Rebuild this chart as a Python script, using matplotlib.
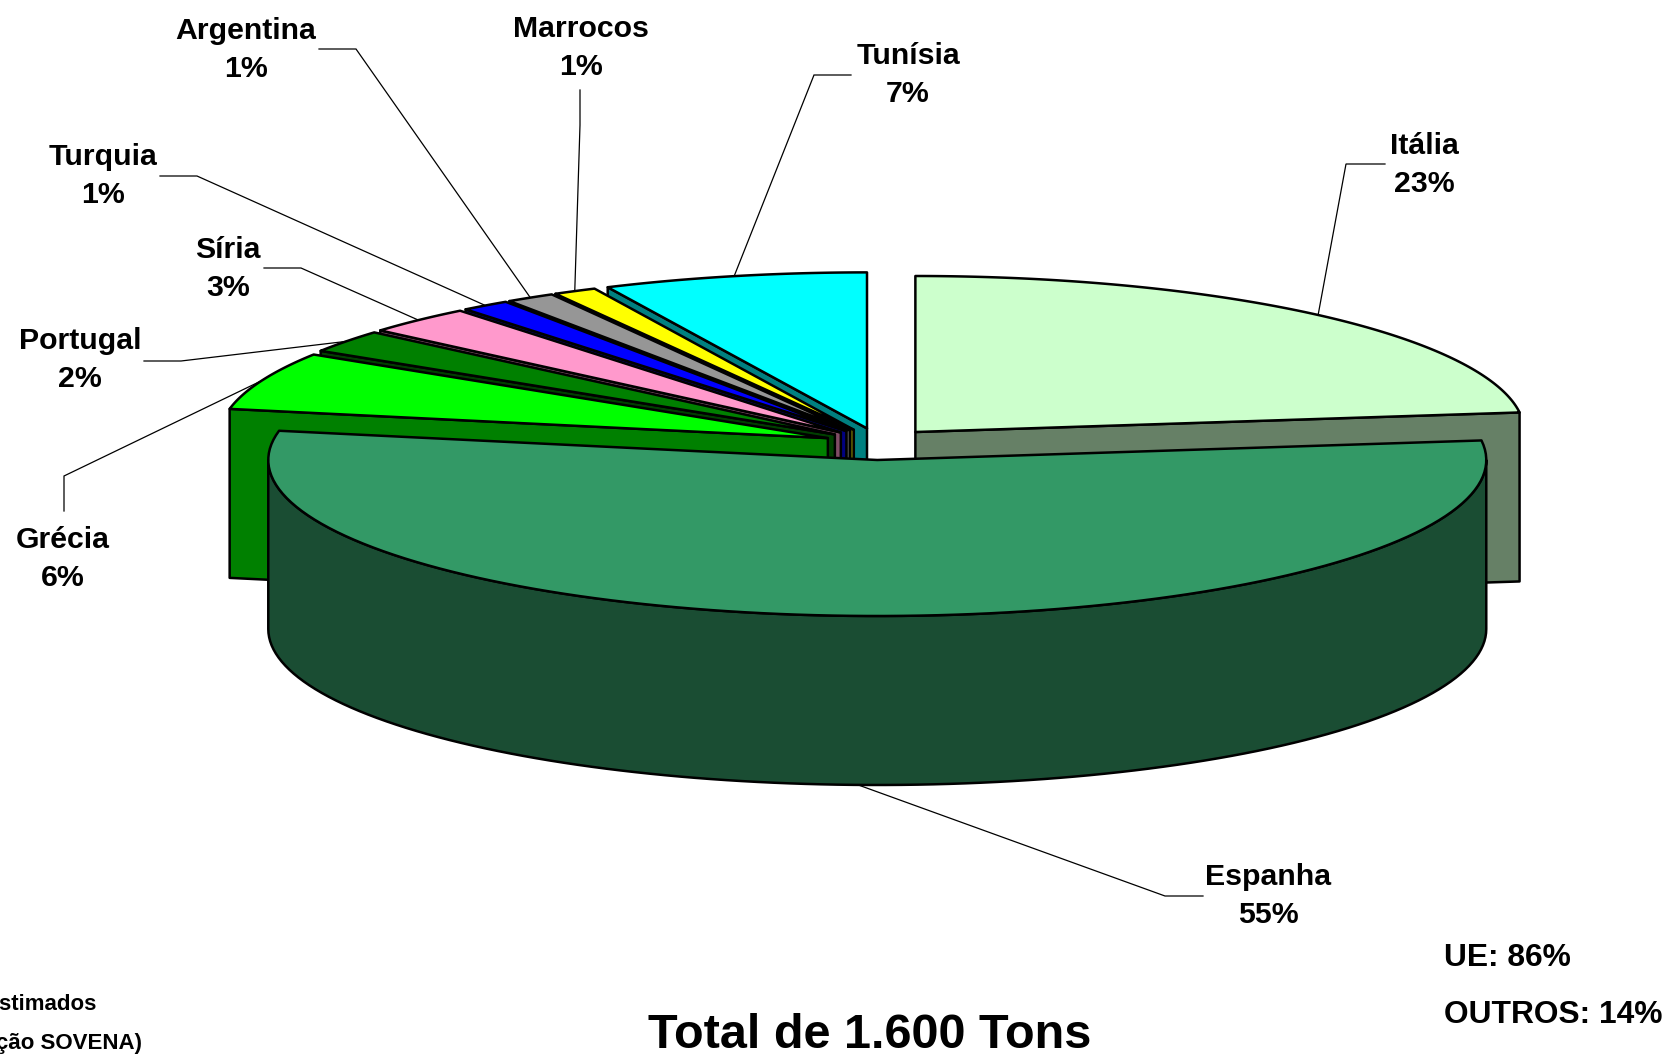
"""
Pizza 3D explodida: origem do azeite (percentagens por país)
"""
import matplotlib.pyplot as plt
from matplotlib.colors import to_rgb
from matplotlib.patches import Polygon
import numpy as np

plt.rcParams['font.family'] = ['Liberation Sans', 'DejaVu Sans']

# dados, pela ordem em que as fatias são percorridas a partir das 12 horas (sentido anti-horário)
paises = ['Tunísia', 'Marrocos', 'Argentina', 'Turquia', 'Síria', 'Portugal', 'Grécia', 'Espanha', 'Itália']
valores = [7, 1.15, 1.3, 1.3, 2.9, 2.35, 6, 55, 23]
cores = ['#00FFFF', '#FFFF00', '#969696', '#0000FF', '#FF99CC', '#008000', '#00FF00', '#339966', '#CCFFCC']

# geometria da pizza (pixels da figura)
cx, cy = 879, 444
rx, ry = 609, 156
prof = 169
expl_x, expl_y = 55, 16
W, H = 1669, 1057

# posição dos textos e cotovelos das linhas de chamada
pos_texto = {'Tunísia': (908, 75), 'Marrocos': (581, 48), 'Argentina': (246, 50), 'Turquia': (103, 176),
             'Síria': (228, 269), 'Portugal': (80, 360), 'Grécia': (63, 559), 'Espanha': (1268, 896),
             'Itália': (1424, 165)}
chamadas = {'Tunísia': [(814, 75), (851, 75)], 'Marrocos': [(580, 125), (580, 90)],
            'Argentina': [(356, 49), (319, 49)], 'Turquia': [(197, 176), (160, 176)],
            'Síria': [(301, 268), (264, 268)], 'Portugal': [(181, 361), (144, 361)],
            'Grécia': [(64, 476), (64, 511)], 'Espanha': [(1165, 896), (1203, 896)],
            'Itália': [(1346, 164), (1385, 164)]}

fig = plt.figure(figsize=(W / 100, H / 100), dpi=100)
ax = fig.add_axes([0, 0, 1, 1])
ax.set_xlim(0, W)
ax.set_ylim(H, 0)
ax.axis('off')


def arco(c, a0, a1, n=120):
    t = np.radians(np.linspace(a0, a1, n))
    return np.column_stack([c[0] + rx * np.cos(t), c[1] - ry * np.sin(t)])


def parede(p0, p1):
    # quadrilátero entre dois pontos do topo, extrudido para baixo
    return [p0, p1, (p1[0], p1[1] + prof), (p0[0], p0[1] + prof)]


def desenha(pontos, cor, z):
    ax.add_patch(Polygon(pontos, closed=True, facecolor=cor, edgecolor='black', linewidth=1.8,
                         joinstyle='round', zorder=z))


# ângulos de cada fatia
fatias = {}
inicio = 90.0
for nome, v, cor in zip(paises, valores, cores):
    fim = inicio + v / sum(valores) * 360
    meio = np.radians((inicio + fim) / 2)
    centro = (cx + expl_x * np.cos(meio), cy - expl_y * np.sin(meio))
    fatias[nome] = (inicio, fim, centro, cor)
    inicio = fim

# desenhar de trás para a frente: Itália, depois Tunísia até Grécia, e Espanha por cima
ordem = ['Itália'] + paises[:7] + ['Espanha']
for i, nome in enumerate(ordem):
    a0, a1, c, cor = fatias[nome]
    escura = tuple(x * 0.5 for x in to_rgb(cor))
    z = 2 + i
    if nome == 'Espanha':
        # parede curva da frente, de 180 a 360 graus
        topo = arco(c, 180, 360)
        desenha(np.vstack([topo, (topo + [0, prof])[::-1]]), escura, z)
    elif nome == 'Itália':
        # corte inferior, virado para a frente
        desenha(parede(c, arco(c, a0, a0, 1)[0]), escura, z)
    else:
        desenha(parede(c, arco(c, a1, a1, 1)[0]), escura, z)
    desenha(np.vstack([[c], arco(c, a0, a1)]), cor, z + 0.5)

# rótulos e linhas de chamada
for nome, v in zip(paises, valores):
    a0, a1, c, cor = fatias[nome]
    p = arco(c, (a0 + a1) / 2, (a0 + a1) / 2, 1)[0]
    if nome == 'Espanha':
        p = p + [0, prof]
    xs, ys = zip(p, *chamadas[nome])
    ax.plot(xs, ys, color='black', linewidth=0.9, zorder=1, solid_joinstyle='miter')
    tx, ty = pos_texto[nome]
    ax.text(tx, ty, f'{nome}\n{round(v)}%', ha='center', va='center', fontsize=21.8, fontweight='bold',
            linespacing=1.48, zorder=20)

# anotações em baixo
ax.text(1444, 958, 'UE: 86%', ha='left', va='center', fontsize=22.9, fontweight='bold')
ax.text(1444, 1015, 'OUTROS: 14%', ha='left', va='center', fontsize=22.9, fontweight='bold')
ax.text(870, 1036, 'Total de 1.600 Tons', ha='center', va='center', fontsize=35, fontweight='bold')
ax.text(96, 1005, 'Valores Estimados', ha='right', va='center', fontsize=16, fontweight='bold')
ax.text(142, 1044, '(Informação SOVENA)', ha='right', va='center', fontsize=16, fontweight='bold')

fig.savefig('out.png', dpi=100)
